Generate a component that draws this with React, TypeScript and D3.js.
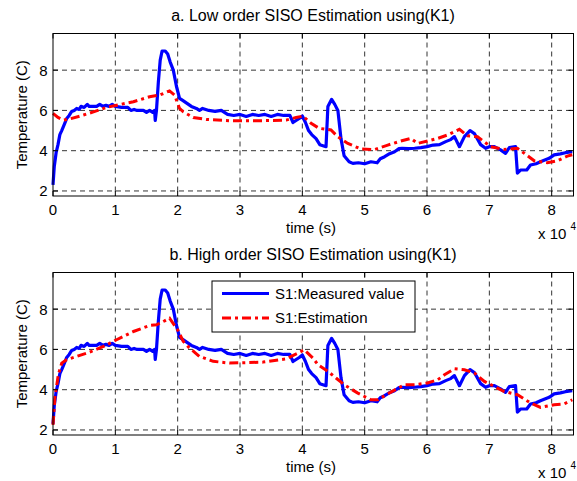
import React from 'react';
import * as d3 from 'd3';

// time in units of 1e4 s, temperature in C
const measuredT = [0, 0.02, 0.05, 0.08, 0.11, 0.14, 0.18, 0.22, 0.26, 0.3, 0.34, 0.38, 0.42, 0.45, 0.5, 0.55, 0.58, 0.65, 0.7, 0.75, 0.8, 0.85, 0.9, 0.95, 1.0, 1.1, 1.2, 1.25, 1.3, 1.35, 1.45, 1.5, 1.55, 1.6, 1.63, 1.64, 1.66, 1.69, 1.72, 1.75, 1.8, 1.84, 1.88, 1.93, 1.98, 2.03, 2.08, 2.15, 2.22, 2.3, 2.35, 2.4, 2.5, 2.6, 2.7, 2.75, 2.8, 2.9, 3.0, 3.1, 3.2, 3.3, 3.4, 3.5, 3.6, 3.7, 3.8, 3.85, 3.9, 3.95, 4.0, 4.05, 4.1, 4.15, 4.22, 4.28, 4.38, 4.41, 4.47, 4.52, 4.57, 4.62, 4.67, 4.75, 4.81, 4.9, 5.0, 5.1, 5.2, 5.25, 5.32, 5.4, 5.48, 5.55, 5.6, 5.7, 5.8, 5.9, 6.0, 6.1, 6.2, 6.3, 6.38, 6.44, 6.52, 6.6, 6.69, 6.76, 6.86, 6.94, 7.0, 7.08, 7.18, 7.26, 7.32, 7.42, 7.45, 7.5, 7.6, 7.66, 7.75, 7.82, 7.96, 8.04, 8.14, 8.22, 8.33];
const measuredY = [2.3, 3.2, 3.9, 4.3, 4.8, 5.0, 5.3, 5.6, 5.75, 5.95, 6.0, 6.1, 6.05, 6.2, 6.15, 6.3, 6.2, 6.2, 6.2, 6.3, 6.2, 6.25, 6.2, 6.3, 6.2, 6.15, 6.15, 6.0, 6.05, 6.0, 6.0, 5.9, 6.0, 5.9, 6.0, 5.5, 6.0, 7.4, 8.5, 8.95, 8.95, 8.8, 8.4, 8.0, 7.2, 6.6, 6.5, 6.35, 6.2, 6.1, 6.0, 6.1, 6.0, 5.95, 6.0, 5.9, 5.8, 5.75, 5.8, 5.7, 5.8, 5.75, 5.8, 5.7, 5.8, 5.75, 5.75, 5.4, 5.5, 5.6, 5.72, 5.4, 5.0, 4.8, 4.6, 4.3, 4.2, 6.2, 6.55, 6.3, 6.0, 4.6, 3.75, 3.45, 3.37, 3.4, 3.35, 3.45, 3.4, 3.6, 3.7, 3.85, 3.95, 4.1, 4.12, 4.1, 4.12, 4.15, 4.2, 4.28, 4.3, 4.45, 4.55, 4.7, 4.2, 4.7, 5.0, 4.85, 4.3, 4.12, 4.2, 4.2, 4.04, 3.87, 4.15, 4.2, 2.88, 3.04, 3.04, 3.29, 3.35, 3.45, 3.62, 3.79, 3.84, 3.9, 3.95];

const lowEstT = [0, 0.08, 0.165, 0.27, 0.49, 0.65, 0.86, 1.02, 1.29, 1.55, 1.71, 1.87, 1.95, 2.03, 2.09, 2.25, 2.46, 2.83, 3.37, 3.74, 3.9, 4.01, 4.14, 4.27, 4.46, 4.57, 4.73, 4.94, 5.16, 5.37, 5.58, 5.74, 5.85, 6.01, 6.17, 6.33, 6.52, 6.65, 6.81, 6.92, 7.02, 7.24, 7.45, 7.56, 7.72, 7.93, 8.09, 8.25, 8.33];
const lowEstY = [5.85, 5.65, 5.52, 5.58, 5.77, 5.93, 6.15, 6.26, 6.43, 6.68, 6.76, 6.97, 6.76, 6.1, 5.93, 5.65, 5.55, 5.49, 5.49, 5.52, 5.65, 5.72, 5.36, 5.11, 5.03, 4.69, 4.36, 4.08, 4.06, 4.28, 4.48, 4.61, 4.36, 4.48, 4.61, 4.78, 5.06, 4.74, 4.69, 4.44, 4.2, 4.06, 4.12, 3.87, 3.5, 3.4, 3.5, 3.73, 3.8];

const highEstT = [0, 0.03, 0.085, 0.14, 0.22, 0.38, 0.59, 0.81, 1.02, 1.29, 1.55, 1.66, 1.79, 1.87, 2.0, 2.09, 2.19, 2.35, 2.57, 2.83, 3.37, 3.74, 3.93, 4.03, 4.17, 4.25, 4.41, 4.54, 4.67, 4.89, 5.1, 5.21, 5.42, 5.64, 5.8, 6.01, 6.17, 6.28, 6.44, 6.6, 6.76, 6.92, 7.08, 7.24, 7.45, 7.66, 7.82, 8.04, 8.2, 8.33];
const highEstY = [2.25, 3.59, 4.74, 5.32, 5.49, 5.65, 5.87, 6.15, 6.48, 6.89, 7.19, 7.22, 7.42, 7.55, 6.97, 6.4, 6.07, 5.65, 5.41, 5.32, 5.37, 5.53, 5.82, 5.98, 5.57, 5.24, 4.91, 4.58, 4.25, 3.83, 3.5, 3.5, 3.88, 4.25, 4.25, 4.33, 4.49, 4.74, 5.04, 4.99, 4.83, 4.41, 4.16, 3.91, 3.75, 3.34, 3.12, 3.25, 3.29, 3.5];

const xTicks = [0, 1, 2, 3, 4, 5, 6, 7, 8];
const yTicks = [2, 4, 6, 8];
const titles = ['a. Low order SISO Estimation using(K1)', 'b. High order SISO Estimation using(K1)'];
const legendLabels = ['S1:Measured value', 'S1:Estimation'];

const FONT = 'Liberation Sans, Arial, sans-serif';
const left = 53, right = 573.5;
const panels = [
  { top: 33.5, bottom: 196, estT: lowEstT, estY: lowEstY, legend: false },
  { top: 272.5, bottom: 435, estT: highEstT, estY: highEstY, legend: true },
];

function Panel({ p, title }: { p: any; title: string }) {
  const x = d3.scaleLinear().domain([0, 8.35]).range([left, right]);
  const y = d3.scaleLinear().domain([1.75, 9.82]).range([p.bottom, p.top]);
  const line = d3.line<[number, number]>().x(d => x(d[0])).y(d => y(d[1]));
  const measured = measuredT.map((t, i) => [t, measuredY[i]] as [number, number]);
  const est = p.estT.map((t: number, i: number) => [t, p.estY[i]] as [number, number]);
  const tl = 5;
  const cx = 313;
  return (
    <g>
      <rect x={left} y={p.top} width={right - left} height={p.bottom - p.top} fill="#fff" />
      {xTicks.filter(t => t > 0).map(t => (
        <line key={'gx' + t} x1={x(t)} x2={x(t)} y1={p.top} y2={p.bottom} stroke="#000" strokeWidth={0.8} strokeDasharray="5,4" />
      ))}
      {yTicks.map(t => (
        <line key={'gy' + t} x1={left} x2={right} y1={y(t)} y2={y(t)} stroke="#000" strokeWidth={0.8} strokeDasharray="5,4" />
      ))}
      <path d={line(measured) || ''} fill="none" stroke="#0000ff" strokeWidth={3.2} strokeLinejoin="round" />
      <path d={line(est) || ''} fill="none" stroke="#ff0000" strokeWidth={3} strokeDasharray="9,4,3,4" />
      <rect x={left} y={p.top} width={right - left} height={p.bottom - p.top} fill="none" stroke="#000" strokeWidth={1} />
      {xTicks.map(t => (
        <g key={'tx' + t}>
          <line x1={x(t)} x2={x(t)} y1={p.bottom} y2={p.bottom - tl} stroke="#000" />
          <line x1={x(t)} x2={x(t)} y1={p.top} y2={p.top + tl} stroke="#000" />
          <text x={x(t)} y={p.bottom + 18.5} textAnchor="middle" fontSize={15} fontFamily={FONT}>{t}</text>
        </g>
      ))}
      {yTicks.map(t => (
        <g key={'ty' + t}>
          <line x1={left} x2={left + tl} y1={y(t)} y2={y(t)} stroke="#000" />
          <line x1={right} x2={right - tl} y1={y(t)} y2={y(t)} stroke="#000" />
          <text x={47.5} y={y(t) + 5.4} textAnchor="end" fontSize={15} fontFamily={FONT}>{t}</text>
        </g>
      ))}
      <text x={cx} y={p.top - 12.5} textAnchor="middle" fontSize={16} fontFamily={FONT}>{title}</text>
      <text x={311} y={p.bottom + 37} textAnchor="middle" fontSize={15} fontFamily={FONT}>time (s)</text>
      <text x={538} y={p.bottom + 43} fontSize={15} fontFamily={FONT}>x 10</text>
      <text x={570.5} y={p.bottom + 33.5} fontSize={10} fontFamily={FONT}>4</text>
      <text transform={`translate(27,${(p.top + p.bottom) / 2}) rotate(-90)`} textAnchor="middle" fontSize={15} fontFamily={FONT}>Temperature (C)</text>
      {p.legend && (
        <g>
          <rect x={212} y={281} width={203} height={51} fill="#fff" stroke="#000" strokeWidth={1} />
          <line x1={222} x2={269} y1={293.5} y2={293.5} stroke="#0000ff" strokeWidth={3.2} />
          <line x1={222} x2={269} y1={318} y2={318} stroke="#ff0000" strokeWidth={3} strokeDasharray="9,4,3,4" />
          <text x={275} y={298.5} fontSize={15} fontFamily={FONT}>{legendLabels[0]}</text>
          <text x={275} y={323} fontSize={15} fontFamily={FONT}>{legendLabels[1]}</text>
        </g>
      )}
    </g>
  );
}

export default function App() {
  return (
    <svg width={577} height={481} style={{ position: 'absolute', left: 0, top: 0, background: '#fff' }}>
      <rect width={577} height={481} fill="#fff" />
      {panels.map((p, i) => <Panel key={i} p={p} title={titles[i]} />)}
    </svg>
  );
}
